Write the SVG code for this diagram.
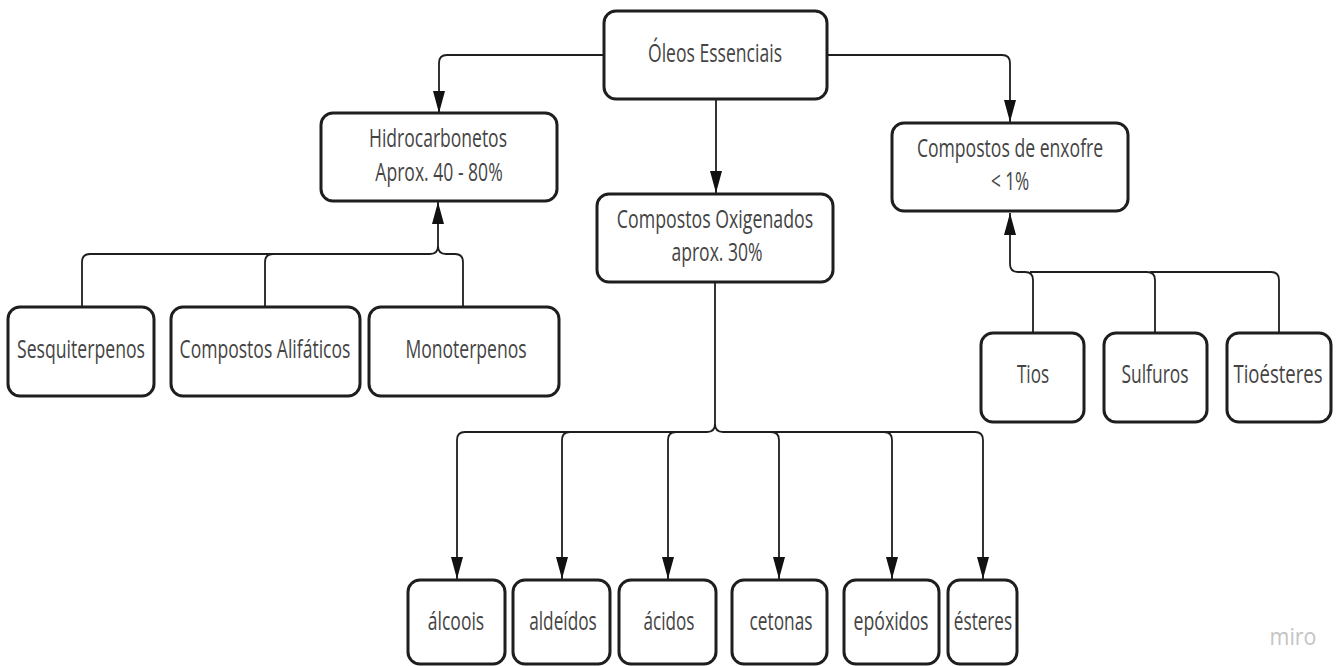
<svg xmlns="http://www.w3.org/2000/svg" width="1339" height="666" viewBox="0 0 1339 666">
<defs>
<style>
.box{fill:#fff;stroke:#1e1e1e;stroke-width:3}
.t{font-family:"Open Sans","Noto Sans",sans-serif;font-size:26px;fill:#444;text-anchor:middle}
.c{fill:none;stroke:#1e1e1e;stroke-width:1.8}
.wm{font-family:"Open Sans","Noto Sans",sans-serif;font-size:23px;fill:#c4c4c4;text-anchor:middle}
</style>
<marker id="ah" markerUnits="userSpaceOnUse" markerWidth="24" markerHeight="14" refX="22" refY="7" orient="auto">
<path d="M0,1 L22,7 L0,13 Z" fill="#111"/>
</marker>
</defs>
<rect width="1339" height="666" fill="#fff"/>
<g id="connectors">
<path class="c" d="M604,55 H447 Q439,55 439,63 V113" marker-end="url(#ah)"/>
<path class="c" d="M716,99 V193" marker-end="url(#ah)"/>
<path class="c" d="M827,55 H1002 Q1010,55 1010,63 V122" marker-end="url(#ah)"/>
<path class="c" d="M82,307 V262 Q82,254 90,254 H430 Q438,254 438,246 V202" marker-end="url(#ah)"/>
<path class="c" d="M265,307 V262 Q265,254 273,254"/>
<path class="c" d="M463,307 V262 Q463,254 455,254 H446 Q438,254 438,246"/>
<path class="c" d="M1033,333 V280 Q1033,272 1025,272 H1018 Q1010,272 1010,264 V213" marker-end="url(#ah)"/>
<path class="c" d="M1155,333 V280 Q1155,272 1147,272 H1030"/>
<path class="c" d="M1279,333 V280 Q1279,272 1271,272 H1150"/>
<path class="c" d="M715,282 V424 Q715,432 707,432 H465 Q457,432 457,440 V579" marker-end="url(#ah)"/>
<path class="c" d="M570,432 Q562,432 562,440 V579" marker-end="url(#ah)"/>
<path class="c" d="M676,432 Q668,432 668,440 V579" marker-end="url(#ah)"/>
<path class="c" d="M715,424 Q715,432 723,432 H975 Q983,432 983,440 V579" marker-end="url(#ah)"/>
<path class="c" d="M771,432 Q779,432 779,440 V579" marker-end="url(#ah)"/>
<path class="c" d="M884,432 Q892,432 892,440 V579" marker-end="url(#ah)"/>
</g>
<g id="n-oleos">
<rect class="box" x="604" y="11" width="223" height="88" rx="12"/>
<text class="t" transform="translate(715 62) scale(0.67 1)" textLength="200" lengthAdjust="spacingAndGlyphs">Óleos Essenciais</text>
</g>
<g id="n-hidro">
<rect class="box" x="321" y="113" width="236" height="88" rx="12"/>
<text class="t" transform="translate(438 147) scale(0.67 1)" textLength="206" lengthAdjust="spacingAndGlyphs">Hidrocarbonetos</text>
<text class="t" transform="translate(439 181) scale(0.67 1)" textLength="190" lengthAdjust="spacingAndGlyphs">Aprox. 40 - 80%</text>
</g>
<g id="n-oxig">
<rect class="box" x="597" y="194" width="236" height="88" rx="12"/>
<text class="t" transform="translate(715 228) scale(0.67 1)" textLength="293" lengthAdjust="spacingAndGlyphs">Compostos Oxigenados</text>
<text class="t" transform="translate(717 261) scale(0.67 1)" textLength="136" lengthAdjust="spacingAndGlyphs">aprox. 30%</text>
</g>
<g id="n-enxofre">
<rect class="box" x="892" y="123" width="236" height="88" rx="12"/>
<text class="t" transform="translate(1010 157) scale(0.67 1)" textLength="278" lengthAdjust="spacingAndGlyphs">Compostos de enxofre</text>
<text class="t" transform="translate(1010 190) scale(0.67 1)" textLength="57" lengthAdjust="spacingAndGlyphs">&lt; 1%</text>
</g>
<g id="n-sesq">
<rect class="box" x="8" y="307" width="146" height="89" rx="12"/>
<text class="t" transform="translate(81 358) scale(0.67 1)" textLength="191" lengthAdjust="spacingAndGlyphs">Sesquiterpenos</text>
</g>
<g id="n-alif">
<rect class="box" x="171" y="307" width="189" height="89" rx="12"/>
<text class="t" transform="translate(265 358) scale(0.67 1)" textLength="255" lengthAdjust="spacingAndGlyphs">Compostos Alifáticos</text>
</g>
<g id="n-mono">
<rect class="box" x="369" y="307" width="190" height="89" rx="12"/>
<text class="t" transform="translate(466 358) scale(0.67 1)" textLength="181" lengthAdjust="spacingAndGlyphs">Monoterpenos</text>
</g>
<g id="n-tios">
<rect class="box" x="981" y="333" width="103" height="89" rx="12"/>
<text class="t" transform="translate(1033 383) scale(0.67 1)" textLength="48" lengthAdjust="spacingAndGlyphs">Tios</text>
</g>
<g id="n-sulfuros">
<rect class="box" x="1104" y="333" width="103" height="89" rx="12"/>
<text class="t" transform="translate(1155 383) scale(0.67 1)" textLength="100" lengthAdjust="spacingAndGlyphs">Sulfuros</text>
</g>
<g id="n-tioesteres">
<rect class="box" x="1227" y="333" width="104" height="89" rx="12"/>
<text class="t" transform="translate(1278 383) scale(0.67 1)" textLength="133" lengthAdjust="spacingAndGlyphs">Tioésteres</text>
</g>
<g id="n-alcoois">
<rect class="box" x="408" y="580" width="97" height="84" rx="12"/>
<text class="t" transform="translate(456 630) scale(0.67 1)" textLength="84" lengthAdjust="spacingAndGlyphs">álcoois</text>
</g>
<g id="n-aldeidos">
<rect class="box" x="513" y="580" width="97" height="84" rx="12"/>
<text class="t" transform="translate(563 630) scale(0.67 1)" textLength="101" lengthAdjust="spacingAndGlyphs">aldeídos</text>
</g>
<g id="n-acidos">
<rect class="box" x="619" y="580" width="97" height="84" rx="12"/>
<text class="t" transform="translate(669 630) scale(0.67 1)" textLength="76" lengthAdjust="spacingAndGlyphs">ácidos</text>
</g>
<g id="n-cetonas">
<rect class="box" x="732" y="580" width="95" height="84" rx="12"/>
<text class="t" transform="translate(781 630) scale(0.67 1)" textLength="94" lengthAdjust="spacingAndGlyphs">cetonas</text>
</g>
<g id="n-epoxidos">
<rect class="box" x="844" y="580" width="95" height="84" rx="12"/>
<text class="t" transform="translate(891 630) scale(0.67 1)" textLength="112" lengthAdjust="spacingAndGlyphs">epóxidos</text>
</g>
<g id="n-esteres">
<rect class="box" x="948" y="580" width="69" height="84" rx="12"/>
<text class="t" transform="translate(983 630) scale(0.67 1)" textLength="87" lengthAdjust="spacingAndGlyphs">ésteres</text>
</g>
<text class="wm" transform="translate(1293 645) scale(0.67 1)" textLength="70" lengthAdjust="spacingAndGlyphs">miro</text>
</svg>
